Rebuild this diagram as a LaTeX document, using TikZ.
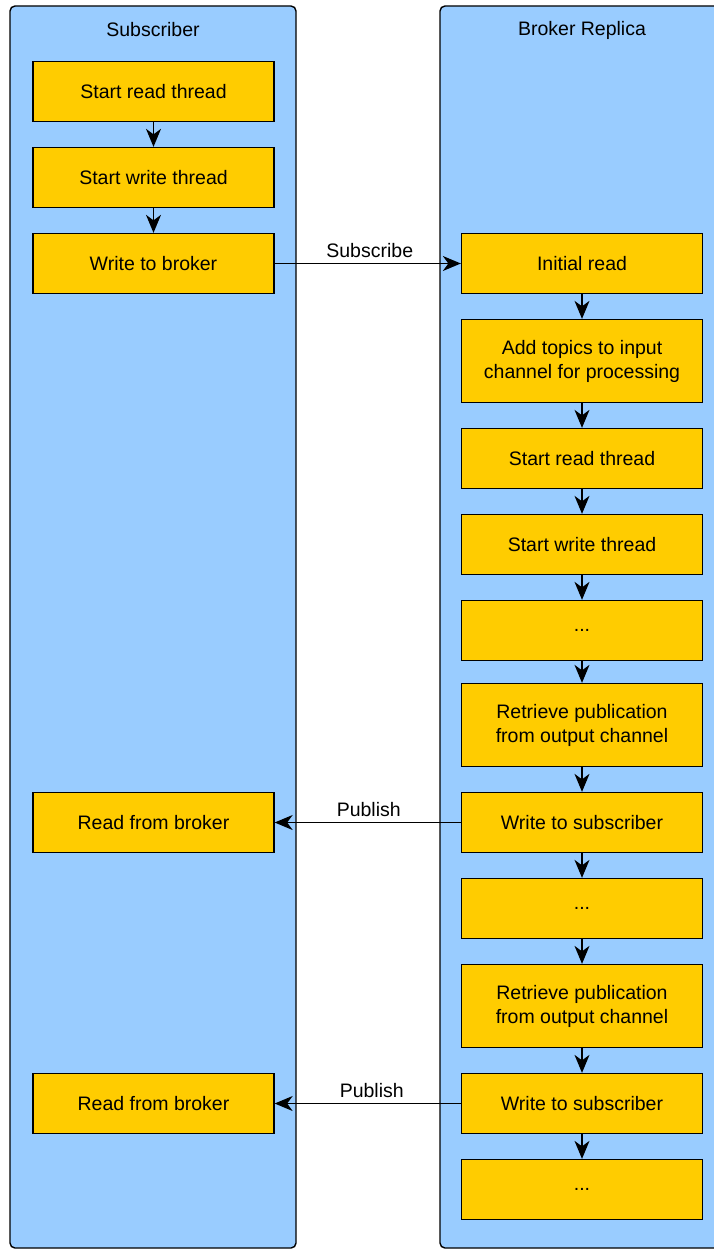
\documentclass[tikz,border=0pt]{standalone}
\usepackage{fontspec}
\setmainfont{Liberation Sans}
\usetikzlibrary{arrows.meta}
\begin{document}
\begin{tikzpicture}[x=1pt,y=-1pt,
  lane/.style={draw=black,fill=laneblue,line width=1.4pt,rounded corners=5pt},
  stepbox/.style={draw=black,fill=boxyellow,line width=1.3pt,minimum width=241pt,
    inner sep=0pt,align=center,font=\fontsize{19.5}{24}\selectfont},
  flow/.style={line width=1.3pt,-{Stealth[length=18pt,width=15pt,inset=5.5pt]}},
  lbl/.style={font=\fontsize{19.5}{22}\selectfont,inner sep=0pt}]
\definecolor{laneblue}{HTML}{99CCFF}
\definecolor{boxyellow}{HTML}{FFCC00}
\useasboundingbox (0,0) rectangle (714,1249);
\clip (0,0) rectangle (714,1249);
% swimlanes
\draw[lane] (10,6) rectangle (296,1248);
\draw[lane] (440,6) rectangle (740,1248);
\node[lbl] (subT) at (153,30) {Subscriber};
\node[lbl] (brkT) at (582,30) {Broker Replica};
% subscriber steps
\node[stepbox,minimum height=60pt] (s1) at (153.5,91.5) {Start read thread};
\node[stepbox,minimum height=60pt] (s2) at (153.5,177.5) {Start write thread};
\node[stepbox,minimum height=60pt] (s3) at (153.5,263.5) {Write to broker};
\node[stepbox,minimum height=60pt] (s4) at (153.5,822.5) {Read from broker};
\node[stepbox,minimum height=60pt] (s5) at (153.5,1103.5) {Read from broker};
% broker steps
\node[stepbox,minimum height=60pt] (b1) at (582,263.5) {Initial read};
\node[stepbox,minimum height=83pt] (b2) at (582,361) {Add topics to input\\channel for processing};
\node[stepbox,minimum height=60pt] (b3) at (582,458.5) {Start read thread};
\node[stepbox,minimum height=60pt] (b4) at (582,544.5) {Start write thread};
\node[stepbox,minimum height=60pt] (b5) at (582,630.5) {...};
\node[stepbox,minimum height=83pt] (b6) at (582,725) {Retrieve publication\\from output channel};
\node[stepbox,minimum height=60pt] (b7) at (582,822.5) {Write to subscriber};
\node[stepbox,minimum height=60pt] (b8) at (582,908.5) {...};
\node[stepbox,minimum height=83pt] (b9) at (582,1006) {Retrieve publication\\from output channel};
\node[stepbox,minimum height=60pt] (b10) at (582,1103.5) {Write to subscriber};
\node[stepbox,minimum height=60pt] (b11) at (582,1189.5) {...};
% flow within lanes
\foreach \a/\b in {s1/s2,s2/s3,b1/b2,b2/b3,b3/b4,b4/b5,b5/b6,b6/b7,b7/b8,b8/b9,b9/b10,b10/b11}
  \draw[flow] (\a) -- (\b);
% messages between lanes
\draw[flow] (s3) -- node[lbl,above=5pt,xshift=2pt] {Subscribe} (b1);
\draw[flow] (b7) -- node[lbl,above=5pt,xshift=1pt] {Publish} (s4);
\draw[flow] (b10) -- node[lbl,above=5pt,xshift=4pt] {Publish} (s5);
\end{tikzpicture}
\end{document}
